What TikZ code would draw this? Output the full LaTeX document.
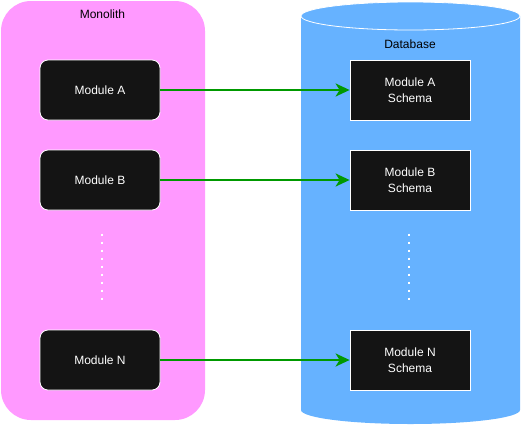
\documentclass[tikz,border=0pt]{standalone}
\usepackage{fontspec}
\setmainfont{Liberation Sans}
\usetikzlibrary{arrows.meta}
\definecolor{pinkfill}{HTML}{FF99FF}
\definecolor{dbfill}{HTML}{66B2FF}
\definecolor{boxfill}{HTML}{141414}
\definecolor{arrowgreen}{HTML}{009900}
\begin{document}
\begin{tikzpicture}[x=1pt,y=-1pt,
  module/.style={draw=white, line width=0.8pt, fill=boxfill, rounded corners=8pt, minimum width=120pt, minimum height=60pt, text=white, font=\fontsize{12}{14}\selectfont, inner sep=0pt},
  schema/.style={draw=white, line width=0.8pt, fill=boxfill, minimum width=120pt, minimum height=60pt, text=white, font=\fontsize{12}{16}\selectfont, align=center, inner sep=0pt},
  label/.style={font=\fontsize{12}{14}\selectfont, text=black, inner sep=0pt},
  link/.style={draw=arrowgreen, line width=2pt, -{Stealth[length=14pt, width=13pt, inset=4pt]}},
  dots/.style={draw=white, line width=2pt, dash pattern=on 2pt off 6pt}
]
\useasboundingbox (0,0) rectangle (521,426);
% Monolith container
\fill[pinkfill, rounded corners=30pt] (1,1) rectangle (205,420);
\node[label] (mono) at (102.5,14) {Monolith};
% Database cylinder
\fill[dbfill] (301,16) -- (301,410) arc[start angle=180, end angle=360, x radius=109.5pt, y radius=14pt] -- (520,16) -- cycle;
\fill[dbfill] (410.5,16) ellipse[x radius=109.5pt, y radius=14pt];
\draw[white, line width=0.8pt] (410.5,16) ellipse[x radius=109.5pt, y radius=14pt];
\node[label] (db) at (410,44) {Database};
% Modules
\node[module] (ma) at (100,90) {Module A};
\node[module] (mb) at (100,180) {Module B};
\node[module] (mn) at (100,360) {Module N};
% Schemas
\node[schema] (sa) at (410,90) {Module A\\ Schema};
\node[schema] (sb) at (410,180) {Module B\\ Schema};
\node[schema] (sn) at (410,360) {Module N\\ Schema};
% Arrows
\draw[link] (ma) -- (sa);
\draw[link] (mb) -- (sb);
\draw[link] (mn) -- (sn);
% Ellipsis dots
\coordinate (d1s) at (101.7,233.7);
\coordinate (d1e) at (101.7,300);
\coordinate (d2s) at (409.3,233.7);
\coordinate (d2e) at (409.3,300);
\draw[dots] (d1s) -- (d1e);
\draw[dots] (d2s) -- (d2e);
\end{tikzpicture}
\end{document}
